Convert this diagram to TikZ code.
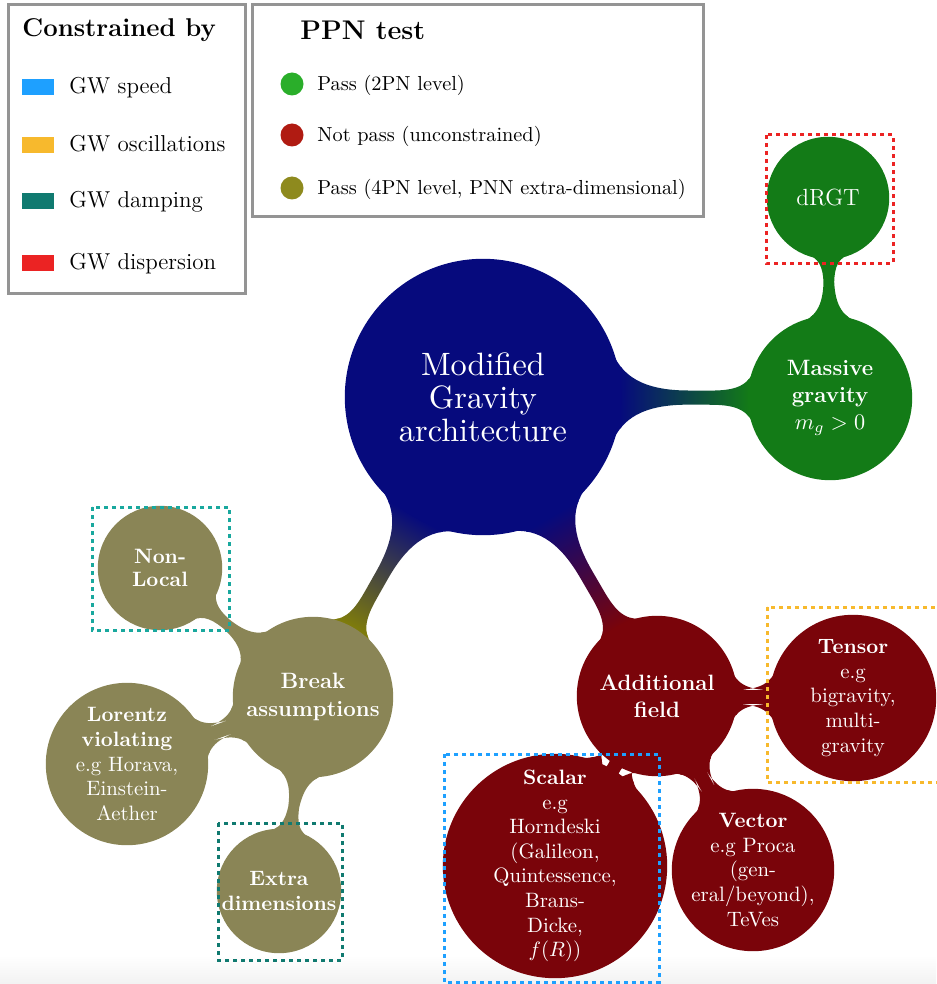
\RequirePackage{fix-cm}
\documentclass[tikz,border=0pt]{standalone}
\usepackage{tikz}
\usetikzlibrary{mindmap,backgrounds}

\definecolor{mgblue}{RGB}{6,10,125}
\definecolor{mggreen}{RGB}{19,123,23}
\definecolor{mgred}{RGB}{122,4,10}
\definecolor{mgolive}{RGB}{138,133,86}
\definecolor{mgbar}{RGB}{128,125,10}
\definecolor{gwspeed}{RGB}{30,160,255}
\definecolor{gwosc}{RGB}{247,185,45}
\definecolor{gwdamp}{RGB}{16,122,112}
\definecolor{gwlocal}{RGB}{25,168,158}
\definecolor{gwdisp}{RGB}{235,35,35}
\definecolor{ppngreen}{RGB}{42,174,42}
\definecolor{ppnred}{RGB}{176,27,18}
\definecolor{ppnolive}{RGB}{142,138,30}

\tikzset{
  bubble/.style={concept, text=white, inner sep=0pt, align=center, text width={}},
  rootbubble/.style={bubble, minimum size=137pt},
  roottext/.style={text=white, align=center, inner sep=0pt, scale=1.616, font=\fontsize{10}{10.2}\selectfont},
  lvlone/.style={bubble, minimum size=79pt, font=\fontsize{11.1}{13.6}\selectfont\bfseries},
  lvltwo/.style={bubble, minimum size=80pt, inner sep=-2pt, font=\fontsize{10.4}{12.3}\selectfont},
  gwframe/.style={line width=1.5pt, dash pattern=on 2pt off 2pt},
  legendframe/.style={draw=black!42, line width=1.5pt},
  legendtext/.style={anchor=base west, inner sep=0pt, font=\fontsize{11.5}{14}\selectfont},
  ppntext/.style={anchor=base west, inner sep=0pt, font=\fontsize{10.15}{12}\selectfont},
  bigbar/.style={line width=8pt},
  smallbar/.style={line width=6pt}
}

\begin{document}
\begin{tikzpicture}[x=0.5pt,y=-0.5pt]
\useasboundingbox (0,0) rectangle (936,984);
\shade[top color=white, bottom color=black!5] (0,955) rectangle (936,984);

% legends
\draw[legendframe] (8,5) rectangle (245,293);
\node[anchor=base west, inner sep=0pt, font=\fontsize{12.85}{15}\selectfont\bfseries] (constr) at (22,37) {Constrained by};
\foreach \col/\txt/\y/\nm in {gwspeed/GW speed/94/speed, gwosc/GW oscillations/152/osc,
    gwdamp/GW damping/208/damp, gwdisp/GW dispersion/270/disp}{
  \node[fill=\col, inner sep=0pt, minimum width=16pt, minimum height=8pt] (\nm sq) at (38,\y-7) {};
  \node[legendtext] (\nm) at (69,\y) {\txt};
}

\draw[legendframe] (252,5) rectangle (703,217);
\node[anchor=base west, inner sep=0pt, font=\fontsize{13.5}{15}\selectfont\bfseries] (ppn) at (300,40) {PPN test};
\foreach \col/\txt/\y/\nm in {ppngreen/Pass (2PN level)/91/pass, ppnred/Not pass (unconstrained)/142/nopass,
    ppnolive/{Pass (4PN level, PNN extra-dimensional)}/195/passfour}{
  \node[fill=\col, circle, inner sep=0pt, minimum size=11.5pt] (\nm dot) at (292,\y-7) {};
  \node[ppntext] (\nm) at (317,\y) {\txt};
}

% the mindmap
\begin{scope}[mindmap]
\node[rootbubble, concept color=mgblue] (mg) at (483,397) {};
\node[roottext] (mgtext) at (mg) {Modified\\Gravity\\architecture};

\node[lvlone, concept color=mggreen, minimum size=81pt] (massive) at (830,398) {Massive\\gravity\\$m_g > 0$};
\node[lvltwo, concept color=mggreen, minimum size=60pt, font=\fontsize{11.7}{13}\selectfont] (drgt) at (828,198) {dRGT};

\node[lvlone, concept color=mgolive] (break) at (313,697) {Break\\assumptions};
\node[lvltwo, concept color=mgolive, minimum size=61pt, font=\fontsize{10.4}{11.6}\selectfont] (nonlocal) at (160,568) {\textbf{Non-}\\\textbf{Local}};
\node[lvltwo, concept color=mgolive] (lorentz) at (127,764) {\textbf{Lorentz}\\\textbf{violating}\\e.g Horava,\\Einstein-\\Aether};
\node[lvltwo, concept color=mgolive, minimum size=61pt] (extra) at (279,891) {\textbf{Extra}\\\textbf{dimensions}};

\node[lvlone, concept color=mgred] (additional) at (657,696) {Additional\\field};
\node[lvltwo, concept color=mgred, minimum size=82pt] (tensor) at (853,698) {\textbf{Tensor}\\e.g\\bigravity,\\multi-\\gravity};
\node[lvltwo, concept color=mgred, minimum size=111pt] (scalar) at (555,866) {\textbf{Scalar}\\e.g\\Horndeski\\(Galileon,\\Quintessence,\\Brans-\\Dicke,\\$f(R)$)};
\node[lvltwo, concept color=mgred] (vector) at (753,870) {\textbf{Vector}\\e.g Proca\\(gen-\\eral/beyond),\\TeVes};

\begin{scope}[on background layer]
\path[bigbar] (mg) to[circle connection bar switch color=from (mgblue) to (mggreen)] (massive);
\path[bigbar] (mg) to[circle connection bar switch color=from (mgblue) to (mgbar)] (break);
\path[bigbar] (mg) to[circle connection bar switch color=from (mgblue) to (mgred)] (additional);
\path[smallbar] (massive) to[circle connection bar switch color=from (mggreen) to (mggreen)] (drgt);
\foreach \kid in {nonlocal,lorentz,extra}
  \path[smallbar] (break) to[circle connection bar switch color=from (mgolive) to (mgolive)] (\kid);
\foreach \kid in {tensor,scalar,vector}
  \path[smallbar] (additional) to[circle connection bar switch color=from (mgred) to (mgred)] (\kid);
\end{scope}
\end{scope}

% constraint frames
\draw[gwframe, gwdisp] (766,135) rectangle (893,263);
\draw[gwframe, gwlocal] (92,507) rectangle (229,630);
\draw[gwframe, gwdamp] (218,823) rectangle (342,960);
\draw[gwframe, gwspeed] (444,754) rectangle (659,982);
\draw[gwframe, gwosc] (767,607) rectangle (960,782);
\end{tikzpicture}
\end{document}
